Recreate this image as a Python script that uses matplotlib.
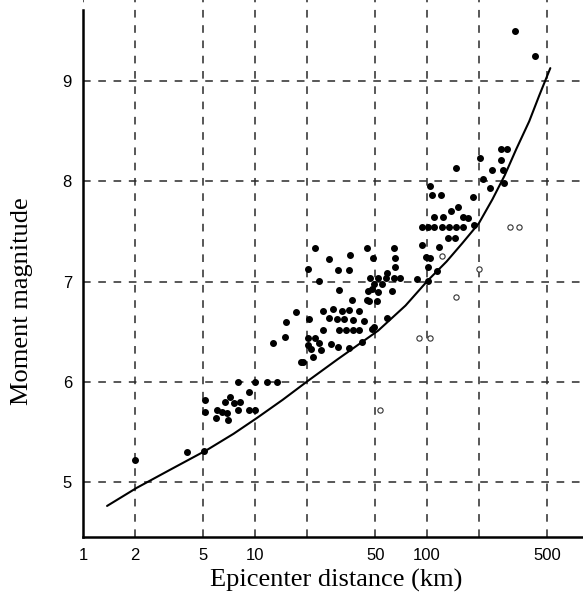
import matplotlib
matplotlib.use("Agg")
import matplotlib.pyplot as plt

# ---- data ----
filled_dist = [2.0, 4.0, 5.05, 5.1, 5.1, 5.9, 6.05, 6.4, 6.7, 6.9, 7.0, 7.2, 7.5, 8.0, 8.0, 8.2,
               9.2, 9.2, 10.0, 10.0, 11.7, 13.5, 12.8, 15.0, 15.2, 17.3, 18.5,
               22.3, 27, 35.5, 44.6, 20.3, 30.5, 35, 23.7, 46.5, 30.8, 45.6, 36.4, 24.7, 28.5,
               32, 35.3, 40.3, 20.5, 27, 30, 33, 36.9, 43, 25, 30.8, 34, 37, 40.3, 47.8,
               20.3, 22.3, 20.3, 23.7, 27.8, 30.4, 35, 41.7, 21.2, 24.3, 21.7, 19.0, 49, 58.5,
               48.5, 64, 65, 65, 58.5, 52, 58, 64, 70, 88, 49, 55, 48, 52, 62.6, 46, 51, 45,
               94, 98, 104, 101, 115, 101, 117,
               94, 101, 110, 123, 135, 148, 162, 188,
               132, 145, 110, 124, 162, 174, 137, 151,
               104, 107, 120, 148, 185,
               202, 212, 233, 240, 278, 282, 271, 271, 292,
               325, 425]
filled_mag = [5.22, 5.30, 5.31, 5.82, 5.70, 5.64, 5.72, 5.70, 5.80, 5.69, 5.62, 5.85, 5.79, 5.72, 6.00, 5.80,
              5.90, 5.72, 5.72, 6.00, 6.00, 6.00, 6.39, 6.45, 6.60, 6.70, 6.20,
              7.33, 7.22, 7.26, 7.33, 7.13, 7.12, 7.12, 7.01, 7.04, 6.92, 6.91, 6.82, 6.71, 6.73,
              6.71, 6.72, 6.71, 6.63, 6.64, 6.63, 6.63, 6.62, 6.61, 6.52, 6.52, 6.52, 6.52, 6.52, 6.53,
              6.44, 6.44, 6.37, 6.39, 6.38, 6.35, 6.34, 6.40, 6.33, 6.32, 6.25, 6.20, 6.55, 6.64,
              7.23, 7.33, 7.23, 7.14, 7.09, 7.04, 7.04, 7.04, 7.04, 7.03, 6.98, 6.98, 6.93, 6.90, 6.91, 6.81, 6.81, 6.82,
              7.36, 7.24, 7.23, 7.14, 7.11, 7.01, 7.34,
              7.54, 7.54, 7.54, 7.54, 7.54, 7.54, 7.54, 7.56,
              7.43, 7.43, 7.64, 7.64, 7.64, 7.63, 7.70, 7.74,
              7.95, 7.86, 7.86, 8.13, 7.84,
              8.23, 8.02, 7.93, 8.11, 8.11, 7.98, 8.21, 8.32, 8.32,
              9.50, 9.25]

open_dist = [53, 90, 104, 148, 123, 200, 303, 341]
open_mag = [5.72, 6.44, 6.44, 6.85, 7.25, 7.13, 7.54, 7.54]

curve_dist = [1.38, 2.05, 3.2, 5.27, 7.5, 10.3, 14.5, 20.0, 30.0, 52, 75, 101, 130, 160,
              200, 240, 283, 330, 393, 450, 521]
curve_mag = [4.76, 4.94, 5.12, 5.32, 5.48, 5.64, 5.82, 6.00, 6.22, 6.51, 6.76, 7.01, 7.20, 7.38,
             7.58, 7.82, 8.06, 8.32, 8.60, 8.86, 9.13]

x_grid = [1, 2, 5, 10, 20, 50, 100, 200, 500]
x_labels = ['1', '2', '5', '10', '', '50', '100', '', '500']
y_grid = [5, 6, 7, 8, 9]
y_labels = ['5', '6', '7', '8', '9']

# ---- figure ----
W, H = 583, 595
fig = plt.figure(figsize=(W / 100, H / 100), dpi=100)
ax = fig.add_axes([83 / W, 58 / H, 500 / W, 537 / H])

ax.set_xscale('log')
ax.set_xlim(1.0, 807)
ax.set_ylim(4.45, 9.81)

ax.set_xticks(x_grid)
ax.set_xticklabels(x_labels)
ax.xaxis.set_minor_locator(matplotlib.ticker.NullLocator())
ax.set_yticks(y_grid)
ax.set_yticklabels(y_labels)

ax.grid(True, which='major', color='#2a2a2a', linewidth=1.1, linestyle=(0, (5, 5)), zorder=1)
ax.set_axisbelow(True)

ax.tick_params(axis='both', length=0, labelsize=12, colors='black')
ax.tick_params(axis='x', pad=8)
ax.tick_params(axis='y', pad=8)
for lab in ax.get_xticklabels() + ax.get_yticklabels():
    lab.set_family('Liberation Sans')

for s in ['top', 'right']:
    ax.spines[s].set_visible(False)
ax.spines['left'].set_linewidth(1.8)
ax.spines['bottom'].set_linewidth(1.8)
ax.spines['left'].set_bounds(4.45, 9.71)

ax.plot(curve_dist, curve_mag, color='black', linewidth=1.5, zorder=3,
        solid_joinstyle='round', solid_capstyle='round')
ax.plot(filled_dist, filled_mag, linestyle='none', marker='o', markersize=4.0,
        markerfacecolor='black', markeredgecolor='black', zorder=4)
ax.plot(open_dist, open_mag, linestyle='none', marker='o', markersize=3.8,
        markerfacecolor='white', markeredgecolor='#333333', markeredgewidth=0.8, zorder=4)

fig.text(336 / W, 1 - 580 / H, 'Epicenter distance (km)', family='Liberation Serif',
         fontsize=19, ha='center', va='center')
fig.text(22 / W, 1 - 301 / H, 'Moment magnitude', family='Liberation Serif',
         fontsize=19, ha='center', va='center', rotation=90)

fig.savefig('out.png', dpi=100)
